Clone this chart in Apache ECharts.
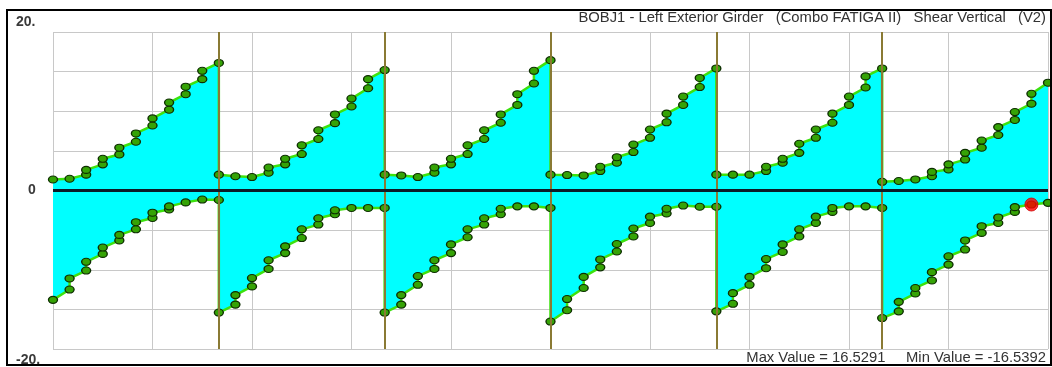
<!DOCTYPE html>
<html>
<head>
<meta charset="utf-8">
<script src="https://cdn.jsdelivr.net/npm/echarts@6/dist/echarts.min.js"></script>
<style>
  html, body { margin: 0; padding: 0; background: #ffffff; }
  #chart { width: 1052px; height: 367px; }
</style>
</head>
<body>
<div id="chart"></div>
<script>
// ---- Data (stations 0..10 per span; a station may hold two values: left / right) ----
const titleText = 'BOBJ1 - Left Exterior Girder   (Combo FATIGA II)   Shear Vertical   (V2)';
const footerText = 'Max Value = 16.5291     Min Value = -16.5392';
const yTickLabels = { '20': '20.', '0': '0', '-20': '-20.' };
const spanLength = 10;
const supports = [10, 20, 30, 40, 50];

const upperSpan1 = [[1.39],[1.48],[2.0,2.6],[3.3,4.0],[4.55,5.4],[6.15,7.2],[8.2,9.1],[10.2,11.1],[12.15,13.1],[14.05,15.1],[16.1]];
const upperSpan2 = [[2.0],[1.8],[1.7],[2.25,2.9],[3.3,4.0],[4.6,5.7],[6.5,7.6],[8.5,9.6],[10.6,11.6],[12.9,14.05],[15.2]];
const upperSpan3 = [[2.0],[1.9],[1.7],[2.25,2.9],[3.3,4.0],[4.6,5.7],[6.5,7.6],[8.55,9.6],[10.8,12.15],[13.5,15.1],[16.45]];
const upperSpan4 = [[2.0],[1.95],[1.9],[2.45,3.0],[3.5,4.2],[4.85,5.8],[6.65,7.7],[8.6,9.7],[10.8,11.85],[13.05,14.2],[15.4]];
const upperSpan5 = [[2.0],[2.0],[2.0],[2.45,3.0],[3.5,4.0],[4.75,5.9],[6.65,7.7],[8.55,9.7],[10.8,11.85],[13.0,14.4],[15.4]];
const upperSpan6 = [[1.1],[1.2],[1.4],[1.8,2.35],[2.65,3.3],[3.9,4.75],[5.4,6.3],[7.0,8.0],[8.9,9.9],[10.95,12.2],[13.6]];

const lowerSpan1 = [[-13.8],[-12.5,-11.1],[-10.1,-9.0],[-8.0,-7.2],[-6.3,-5.6],[-4.9,-4.0],[-3.46,-2.8],[-2.4,-2.0],[-1.5],[-1.14],[-1.2]];
const lowerSpan2 = [[-15.4],[-14.4,-13.2],[-12.1,-11.05],[-9.9,-8.8],[-7.9,-7.05],[-6.0,-4.9],[-4.3,-3.5],[-3.0,-2.5],[-2.2],[-2.2],[-2.2]];
const lowerSpan3 = [[-15.4],[-14.4,-13.2],[-11.9,-10.8],[-9.9,-8.8],[-7.9,-6.8],[-5.9,-4.9],[-4.3,-3.5],[-3.0,-2.3],[-2.0],[-2.0],[-2.2]];
const lowerSpan4 = [[-16.54],[-15.1,-13.7],[-12.3,-10.9],[-9.7,-8.7],[-7.7,-6.75],[-5.8,-4.8],[-4.1,-3.3],[-2.9,-2.3],[-1.9],[-2.05],[-2.05]];
const lowerSpan5 = [[-15.25],[-14.3,-12.95],[-11.9,-10.9],[-9.8,-8.65],[-7.75,-6.8],[-5.8,-4.9],[-4.1,-3.3],[-2.7,-2.2],[-2.0],[-2.0],[-2.2]];
const lowerSpan6 = [[-16.1],[-15.25,-14.05],[-13.0,-12.3],[-11.35,-10.3],[-9.35,-8.3],[-7.45,-6.3],[-5.35,-4.5],[-4.1,-3.4],[-2.7,-2.1],[-1.77],[-1.56]];

const currentPoint = [59, -1.77];

// ---- Build series data ----
function build(spans) {
  const out = [];
  spans.forEach((span, s) => {
    span.forEach((vals, i) => {
      vals.forEach(v => out.push([s * spanLength + i, v]));
    });
  });
  return out;
}
const upperData = build([upperSpan1, upperSpan2, upperSpan3, upperSpan4, upperSpan5, upperSpan6]);
const lowerData = build([lowerSpan1, lowerSpan2, lowerSpan3, lowerSpan4, lowerSpan5, lowerSpan6]);

const lineColor = '#3ce20e';
const markerStyle = { color: '#35a306', borderColor: '#0e2e02', borderWidth: 1.2 };
const font = 'Liberation Sans';

function envelope(data) {
  return {
    type: 'line',
    data: data,
    z: 3,
    symbol: 'circle',
    symbolSize: [9, 7],
    showAllSymbol: true,
    lineStyle: { color: lineColor, width: 2.5 },
    itemStyle: markerStyle,
    areaStyle: { color: '#00ffff', opacity: 1, origin: 0 },
    silent: true
  };
}

const labelRich = { fontFamily: font, fontSize: 14, fontWeight: 'bold', color: '#3a3a3a' };

const chart = echarts.init(document.getElementById('chart'), null, { renderer: 'canvas' });
chart.setOption({
  animation: false,
  backgroundColor: '#ffffff',
  title: [
    { text: titleText, right: 6, top: 10, padding: 0,
      textStyle: { fontFamily: font, fontSize: 14.8, fontWeight: 'normal', color: '#333333' } },
    { text: footerText, right: 6, top: 350, padding: 0,
      textStyle: { fontFamily: font, fontSize: 14.8, fontWeight: 'normal', color: '#333333' } }
  ],
  grid: { left: 53, right: 4, top: 32, bottom: 18 },
  xAxis: {
    type: 'value', min: 0, max: 60, interval: 6,
    axisLine: { show: false }, axisTick: { show: false }, axisLabel: { show: false },
    splitLine: { show: true, lineStyle: { color: '#c8c8c8', width: 1 } }
  },
  yAxis: {
    type: 'value', min: -20, max: 20, interval: 5,
    axisLine: { show: false }, axisTick: { show: false },
    splitLine: { show: true, lineStyle: { color: '#c8c8c8', width: 1 } },
    axisLabel: {
      show: true, align: 'left', margin: 37,
      fontFamily: font, fontSize: 14, fontWeight: 'bold', color: '#3a3a3a',
      formatter: function (v) {
        const t = yTickLabels[String(v)];
        if (t === undefined) return '';
        if (v > 0) return '{t|' + t + '}';
        if (v < 0) return '{b|' + t + '}';
        return '{z|' + t + '}';
      },
      rich: {
        t: Object.assign({ padding: [0, 0, 19, 0] }, labelRich),
        b: Object.assign({ padding: [22, 0, 0, 0] }, labelRich),
        z: Object.assign({ padding: [0, 0, 0, 12] }, labelRich)
      }
    }
  },
  graphic: [
    { type: 'rect', shape: { x: 7, y: 10, width: 1044, height: 355 },
      style: { fill: null, stroke: '#000000', lineWidth: 2 }, z: 100, silent: true }
  ],
  series: [
    {
      type: 'line', data: [], z: 1, silent: true,
      markLine: {
        silent: true, symbol: ['none', 'none'], label: { show: false },
        lineStyle: { color: '#8a7a34', width: 2, type: 'solid' },
        data: supports.map(x => ({ xAxis: x }))
      }
    },
    envelope(upperData),
    envelope(lowerData),
    {
      type: 'line', data: [], z: 5, silent: true,
      markLine: {
        silent: true, symbol: ['none', 'none'], label: { show: false },
        lineStyle: { color: '#0b1b27', width: 3, type: 'solid' },
        data: [{ yAxis: 0 }]
      }
    },
    {
      type: 'scatter', data: [currentPoint], z: 6, silent: true,
      symbol: 'circle', symbolSize: 13,
      itemStyle: { color: '#ff0000', borderColor: '#cc0000', borderWidth: 1 }
    }
  ]
});
</script>
</body>
</html>
